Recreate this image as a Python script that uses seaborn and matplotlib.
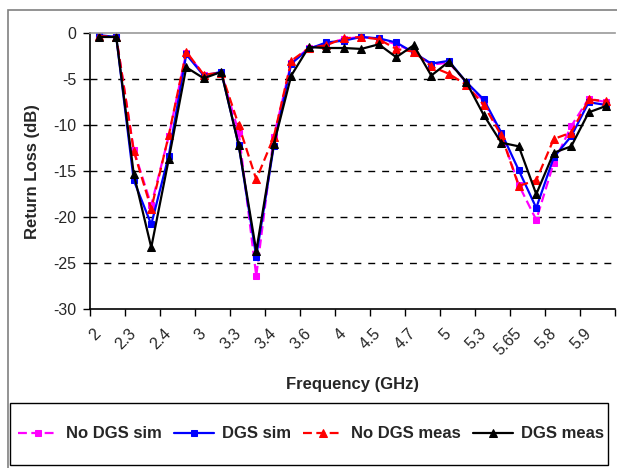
import matplotlib
matplotlib.use("Agg")
import matplotlib.pyplot as plt
from matplotlib.patches import Rectangle
import seaborn as sns

# Categories (only every other label is shown on the axis)
freq = ["2", "2.2", "2.3", "2.35", "2.4", "2.7", "3", "3.2", "3.3", "3.35",
        "3.4", "3.5", "3.6", "3.8", "4", "4.2", "4.5", "4.6", "4.7", "4.8",
        "5", "5.2", "5.3", "5.5", "5.65", "5.7", "5.8", "5.85", "5.9", "6"]

no_dgs_sim = [-0.3, -0.4, -12.7, -18.7, -11.2, -2.1, -4.5, -4.3, -10.8, -26.4,
              -11.3, -3.2, -1.6, -1.2, -0.6, -0.4, -0.6, -1.2, -2.0, -3.4,
              -3.2, -5.3, -7.4, -11.0, -16.5, -20.3, -14.1, -10.1, -7.1, -7.5]
dgs_sim = [-0.2, -0.4, -16.0, -20.8, -13.3, -2.3, -4.6, -4.2, -12.2, -24.3,
           -12.3, -3.3, -1.7, -1.0, -0.8, -0.4, -0.55, -1.0, -2.1, -3.3,
           -3.0, -5.3, -7.2, -10.8, -14.9, -19.0, -13.5, -11.2, -7.5, -7.8]
no_dgs_meas = [-0.3, -0.4, -12.8, -19.1, -11.1, -2.0, -4.5, -4.3, -10.0, -15.9,
               -11.3, -3.0, -1.6, -1.3, -0.55, -0.4, -0.65, -1.7, -2.0, -3.6,
               -4.4, -5.6, -7.8, -11.1, -16.6, -16.0, -11.5, -10.8, -7.2, -7.4]
dgs_meas = [-0.4, -0.4, -15.3, -23.3, -13.7, -3.7, -4.9, -4.2, -12.2, -23.7,
            -12.1, -4.6, -1.5, -1.6, -1.6, -1.7, -1.2, -2.6, -1.3, -4.6,
            -3.1, -5.3, -8.9, -11.9, -12.3, -17.5, -13.0, -12.3, -8.6, -7.9]

series = [
    ("No DGS sim", no_dgs_sim, "#FF00FF", "s", (4, 2), 4.5),
    ("DGS sim", dgs_sim, "#0000FF", "s", None, 4.5),
    ("No DGS meas", no_dgs_meas, "#FF0000", "^", (4, 2), 5.5),
    ("DGS meas", dgs_meas, "#000000", "^", None, 5.5),
]

sns.set_theme(style="white")
plt.rcParams["font.family"] = ["Liberation Sans", "DejaVu Sans"]
plt.rcParams["axes.unicode_minus"] = False

fig = plt.figure(figsize=(6.17, 4.68), dpi=100)
ax = fig.add_axes([90 / 617, 1 - 309 / 468, 525 / 617, (309 - 33.3) / 468])

idx = list(range(len(freq)))
for name, vals, col, mk, dash, ms in series:
    kw = {}
    if dash is not None:
        kw["dashes"] = dash
    sns.lineplot(x=idx, y=vals, ax=ax, color=col, marker=mk, markersize=ms,
                 markeredgecolor=col, linewidth=1.6, label=name, **kw)

ax.set_xlim(-0.5, len(freq) - 0.5)
ax.set_ylim(-30, 0)
ax.set_yticks(range(-30, 1, 5))
for v in range(-25, 0, 5):
    ax.axhline(v, color="black", lw=1, dashes=(5, 5), zorder=0)

# tick marks between category pairs, labels on every other category
ax.set_xticks([i - 0.5 for i in range(0, len(freq) + 1, 2)])
ax.set_xticklabels([])
ax.set_xticks(idx[::2], minor=True)
ax.set_xticklabels(freq[::2], minor=True, rotation=45, ha="right",
                   va="center", rotation_mode="anchor", fontsize=11.5)
ax.tick_params(axis="x", which="major", direction="out", length=5,
               color="black", width=1, bottom=True)
ax.tick_params(axis="x", which="minor", length=0, pad=16)
ax.tick_params(axis="y", direction="out", length=5, color="black", width=1,
               left=True, labelsize=11.5, pad=5)

for s in ["left", "bottom"]:
    ax.spines[s].set_color("black")
    ax.spines[s].set_linewidth(1.2)
ax.spines["top"].set_color("#999999")
ax.spines["top"].set_linewidth(1.2)
ax.spines["right"].set_visible(False)

ax.set_xlabel("Frequency (GHz)", fontsize=12, fontweight="bold", labelpad=13)
ax.set_ylabel("Return Loss (dB)", fontsize=12, fontweight="bold", labelpad=9)

handles, labels = ax.get_legend_handles_labels()
ax.get_legend().remove()
fig.legend(handles, labels, loc="center", bbox_to_anchor=(311 / 617, 1 - 434 / 468),
           ncol=4, frameon=False, prop={"weight": "bold", "size": 12},
           handlelength=2.4, handletextpad=0.5, columnspacing=0.7)

# outer chart border and legend box
fig.patches.append(Rectangle((7.5 / 617, -0.05), 1.0, 1.05 - 9.7 / 468,
                             transform=fig.transFigure, fill=False,
                             edgecolor="#808080", lw=1.2))
fig.patches.append(Rectangle((10 / 617, 1 - 465 / 468), 598 / 617, 62 / 468,
                             transform=fig.transFigure, fill=False,
                             edgecolor="black", lw=1))

fig.savefig("out.png", dpi=100)
